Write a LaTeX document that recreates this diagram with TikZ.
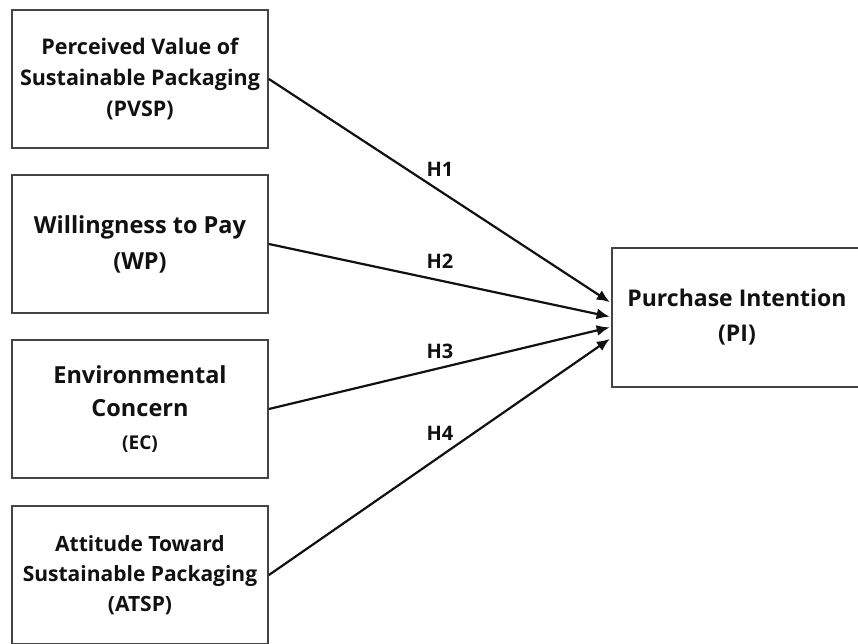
\documentclass[tikz,border=0pt]{standalone}
\usepackage{fontspec}
\setmainfont{Open Sans}
\usepackage{xcolor}
\usetikzlibrary{arrows.meta,positioning,calc}
\definecolor{inkblack}{HTML}{111111}
\definecolor{framegray}{HTML}{444444}
\tikzset{
  varbox/.style={
    rectangle, draw=framegray, fill=white, line width=1.8pt,
    minimum width=256pt, minimum height=138pt,
    text=inkblack, align=center, inner sep=0pt
  },
  hyparrow/.style={
    -{Latex[length=13pt,width=11pt]}, line width=2.2pt, color=inkblack,
    shorten >=1.5pt
  },
  hlabel/.style={
    font=\bfseries\fontsize{20}{22}\selectfont, text=inkblack, inner sep=0pt
  },
}
\begin{document}
\begin{tikzpicture}[x=1pt, y=-1pt]
  \clip (0,0) rectangle (858,644);
  \fill[white] (0,0) rectangle (858,644);
  \node[varbox, font=\bfseries\fontsize{21.5}{31}\selectfont] (pvsp) at (140,79) {Perceived Value of\\Sustainable Packaging\\(PVSP)};
  \node[varbox, font=\bfseries\fontsize{23.5}{36}\selectfont] (wp) at (140,244) {Willingness to Pay\\(WP)};
  \node[varbox, font=\bfseries\fontsize{23.5}{33}\selectfont] (ec) at (140,409) {Environmental\\Concern\\{\fontsize{19}{20}\selectfont(EC)}};
  \node[varbox, font=\bfseries\fontsize{21}{30}\selectfont] (atsp) at (140,575) {Attitude Toward\\Sustainable Packaging\\(ATSP)};
  \node[varbox, minimum width=250pt, minimum height=139pt, font=\bfseries\fontsize{23}{35}\selectfont] (pi) at (737,317.5) {Purchase Intention\\(PI)};
  \draw[hyparrow] (pvsp.east) -- node[hlabel, above=13.5pt] {H1} ([yshift=14.5pt]pi.west);
  \draw[hyparrow] (wp.east) -- node[hlabel, above=11pt] {H2} ([yshift=0.5pt]pi.west);
  \draw[hyparrow] (ec.east) -- node[hlabel, above=8.5pt] {H3} ([yshift=-9.5pt]pi.west);
  \draw[hyparrow] (atsp.east) -- node[hlabel, above=15pt] {H4} ([yshift=-20.5pt]pi.west);
\end{tikzpicture}
\end{document}
